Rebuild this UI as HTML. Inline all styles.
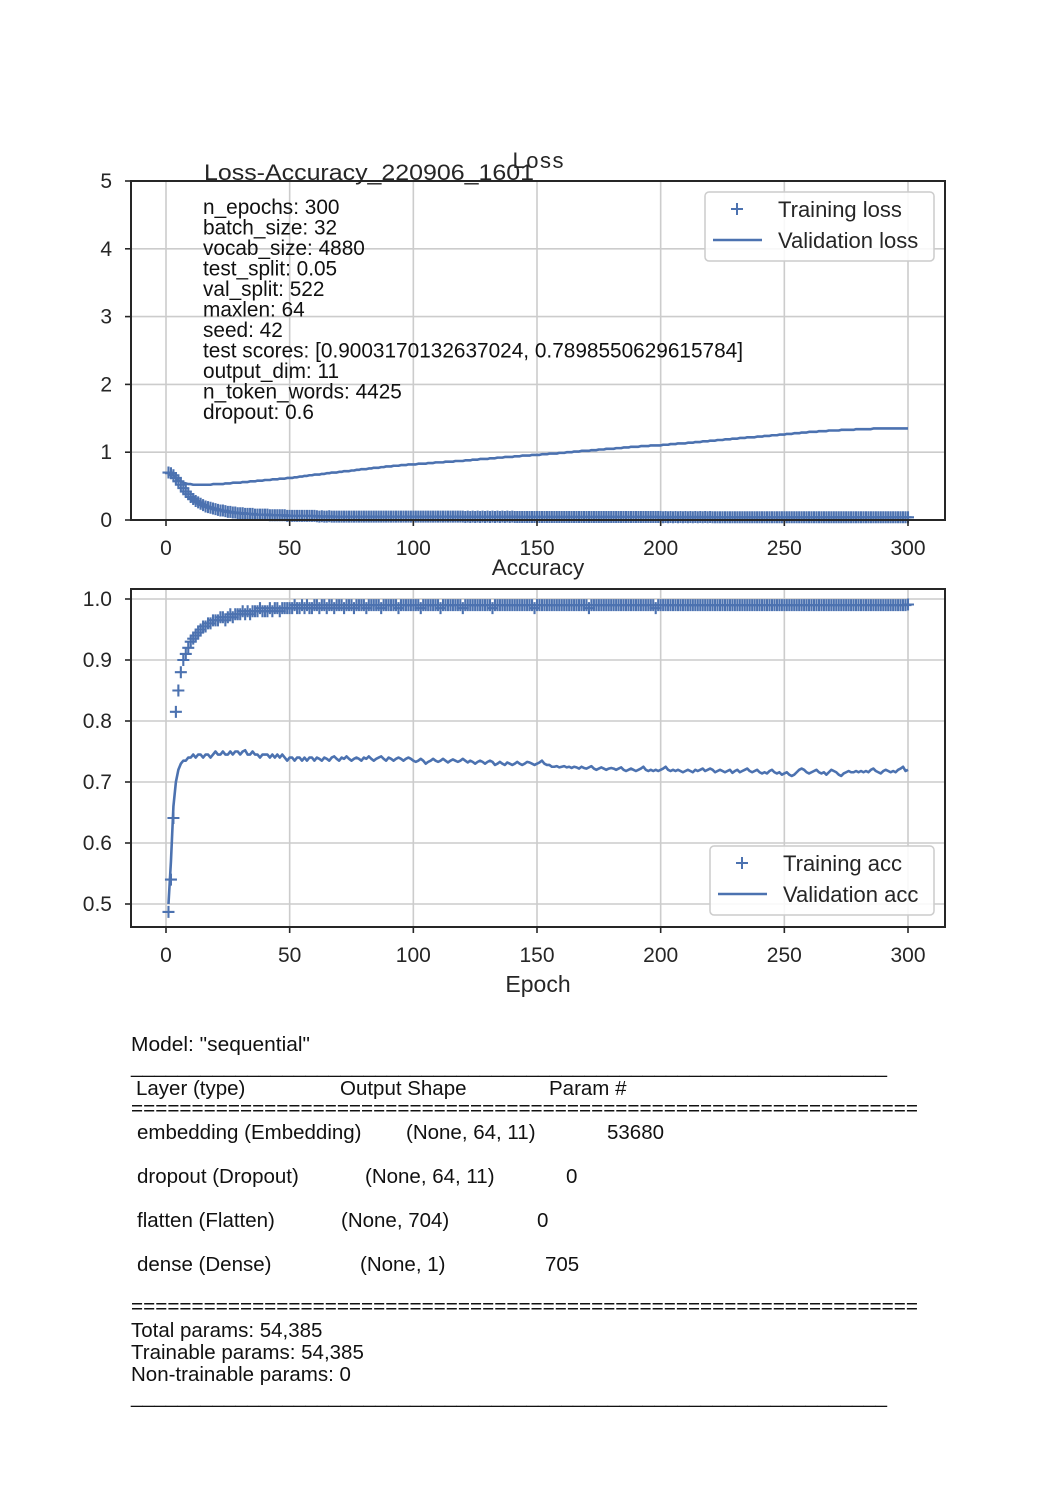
<!DOCTYPE html>
<html><head><meta charset="utf-8"><style>
html,body{margin:0;padding:0;background:#fff;}
svg{display:block;font-family:"Liberation Sans",sans-serif;}
</style></head><body>
<svg id="fig" width="1050" height="1500" viewBox="0 0 1050 1500" xmlns="http://www.w3.org/2000/svg">
<rect width="1050" height="1500" fill="#fff"/>
<g id="loss"></g>
<g id="acc"></g>
<g font-size="20.5" fill="#111">
<text x="131" y="1051" textLength="179" lengthAdjust="spacingAndGlyphs">Model: "sequential"</text>
<text x="131" y="1073" textLength="756" lengthAdjust="spacingAndGlyphs">_________________________________________________________________</text>
<text x="136" y="1095">Layer (type)</text><text x="340" y="1095">Output Shape</text><text x="549" y="1095">Param #</text>
<text x="131" y="1115" textLength="787" lengthAdjust="spacingAndGlyphs">=================================================================</text>
<text x="137" y="1139">embedding (Embedding)</text><text x="406" y="1139">(None, 64, 11)</text><text x="607" y="1139">53680</text>
<text x="137" y="1183">dropout (Dropout)</text><text x="365" y="1183">(None, 64, 11)</text><text x="566" y="1183">0</text>
<text x="137" y="1227">flatten (Flatten)</text><text x="341" y="1227">(None, 704)</text><text x="537" y="1227">0</text>
<text x="137" y="1271">dense (Dense)</text><text x="360" y="1271">(None, 1)</text><text x="545" y="1271">705</text>
<text x="131" y="1313" textLength="787" lengthAdjust="spacingAndGlyphs">=================================================================</text>
<text x="131" y="1337">Total params: 54,385</text>
<text x="131" y="1359">Trainable params: 54,385</text>
<text x="131" y="1381">Non-trainable params: 0</text>
<text x="131" y="1403" textLength="756" lengthAdjust="spacingAndGlyphs">_________________________________________________________________</text>
</g>
</svg>
<script>
const xTicks=[0,50,100,150,200,250,300];
const lossTicks=[0,1,2,3,4,5];
const accTicks=[0.5,0.6,0.7,0.8,0.9,1.0];
const accTickLabels=["0.5","0.6","0.7","0.8","0.9","1.0"];
const trainLoss=[.70,.69,.66,.62,.57,.52,.47,.42,.38,.34,.31,.28,.26,.24,.22,.20,.19,.18,.17,.16,
.15,.14,.14,.13,.12,.12,.11,.11,.10,.10,.10,.09,.09,.09,.09,.08,.08,.08,.08,.08,
.08,.07,.07,.07,.07,.07,.07,.07,.06,.06,.06,.06,.06,.06,.06,.06,.06,.06,.06,.06,
.055,.05,.055,.05,.05,.055,.05,.05,.05,.05,.05,.05,.05,.05,.05,.05,.05,.05,.05,.05,
.05,.05,.05,.05,.05,.05,.05,.05,.05,.05,.05,.05,.05,.05,.05,.05,.05,.05,.05,.05,
.05,.05,.05,.05,.05,.05,.05,.05,.05,.05,.05,.05,.05,.05,.05,.05,.05,.05,.05,.05,
.045,.05,.045,.05,.045,.05,.045,.05,.045,.05,.045,.05,.045,.05,.045,.05,.045,.05,.045,.05,
.045,.045,.045,.045,.045,.045,.045,.045,.045,.045,.045,.045,.045,.045,.045,.045,.045,.045,.045,.045,
.045,.045,.045,.045,.045,.045,.045,.045,.045,.045,.045,.045,.045,.045,.045,.045,.045,.045,.045,.045,
.045,.045,.045,.045,.045,.045,.045,.045,.045,.045,.045,.045,.045,.045,.045,.045,.045,.045,.045,.045,
.04,.045,.04,.045,.04,.045,.04,.045,.04,.045,.04,.045,.04,.045,.04,.045,.04,.045,.04,.045,
.04,.04,.04,.04,.04,.04,.04,.04,.04,.04,.04,.04,.04,.04,.04,.04,.04,.04,.04,.04,
.04,.04,.04,.04,.04,.04,.04,.04,.04,.04,.04,.04,.04,.04,.04,.04,.04,.04,.04,.04,
.04,.04,.04,.04,.04,.04,.04,.04,.04,.04,.04,.04,.04,.04,.04,.04,.04,.04,.04,.04,
.04,.04,.04,.04,.04,.04,.04,.04,.04,.04,.04,.04,.04,.04,.04,.04,.04,.04,.04,.04];
const valLoss=[.70,.68,.65,.62,.59,.57,.55,.54,.53,.53,.52,.52,.52,.52,.52,.52,.52,.52,.53,.53,
.53,.53,.53,.54,.54,.54,.55,.55,.55,.55,.56,.56,.56,.57,.57,.57,.58,.58,.58,.59,
.59,.59,.60,.60,.60,.61,.61,.61,.62,.62,.62,.63,.63,.64,.64,.65,.65,.66,.66,.67,
.67,.67,.68,.68,.69,.69,.70,.70,.70,.71,.71,.72,.72,.72,.73,.73,.74,.74,.75,.75,
.75,.76,.76,.77,.77,.77,.78,.78,.79,.79,.79,.80,.80,.80,.81,.81,.81,.82,.82,.82,
.82,.83,.83,.83,.83,.84,.84,.84,.85,.85,.85,.85,.86,.86,.86,.86,.87,.87,.87,.87,
.88,.88,.88,.89,.89,.89,.90,.90,.90,.90,.91,.91,.91,.92,.92,.92,.93,.93,.93,.93,
.94,.94,.94,.95,.95,.95,.95,.96,.96,.96,.96,.97,.97,.97,.98,.98,.98,.98,.99,.99,
.99,1.00,1.00,1.00,1.01,1.01,1.01,1.02,1.02,1.02,1.02,1.03,1.03,1.03,1.04,1.04,1.04,1.05,1.05,1.05,
1.05,1.06,1.06,1.06,1.07,1.07,1.07,1.08,1.08,1.08,1.08,1.09,1.09,1.09,1.09,1.10,1.10,1.10,1.10,1.10,
1.11,1.11,1.11,1.12,1.12,1.12,1.13,1.13,1.13,1.13,1.14,1.14,1.14,1.15,1.15,1.15,1.16,1.16,1.16,1.17,
1.17,1.17,1.18,1.18,1.18,1.19,1.19,1.19,1.20,1.20,1.20,1.21,1.21,1.21,1.22,1.22,1.22,1.22,1.23,1.23,
1.23,1.24,1.24,1.24,1.25,1.25,1.25,1.26,1.26,1.26,1.27,1.27,1.27,1.28,1.28,1.28,1.29,1.29,1.29,1.30,
1.30,1.30,1.30,1.31,1.31,1.31,1.31,1.32,1.32,1.32,1.32,1.32,1.33,1.33,1.33,1.33,1.33,1.33,1.34,1.34,
1.34,1.34,1.34,1.34,1.34,1.35,1.35,1.35,1.35,1.35,1.35,1.35,1.35,1.35,1.35,1.35,1.35,1.35,1.35,1.35];
const trainAcc=[.487,.54,.641,.815,.85,.88,.90,.91,.92,.93,.935,.94,.945,.95,.955,.955,.96,.96,.965,.965,
.965,.97,.97,.965,.97,.975,.97,.975,.975,.975,.98,.975,.98,.975,.98,.98,.98,.985,.98,.98,
.98,.985,.98,.985,.985,.98,.985,.985,.985,.985,.985,.99,.985,.985,.99,.985,.99,.985,.985,.99,
.99,.985,.99,.99,.985,.99,.99,.985,.99,.99,.99,.985,.99,.99,.99,.985,.99,.99,.99,.99,
.985,.99,.99,.99,.99,.99,.985,.99,.99,.99,.99,.99,.99,.985,.99,.99,.99,.99,.99,.99,
.99,.99,.985,.99,.99,.99,.99,.99,.99,.99,.985,.99,.99,.99,.99,.99,.99,.99,.99,.985,
.99,.99,.99,.99,.99,.99,.99,.99,.99,.99,.99,.985,.99,.99,.99,.99,.99,.99,.99,.99,
.99,.99,.99,.99,.99,.99,.99,.99,.985,.99,.99,.99,.99,.99,.99,.99,.99,.99,.99,.99,
.99,.99,.99,.99,.99,.99,.99,.99,.99,.99,.985,.99,.99,.99,.99,.99,.99,.99,.99,.99,
.99,.99,.99,.99,.99,.99,.99,.99,.99,.99,.99,.99,.99,.99,.99,.99,.99,.985,.99,.99,
.99,.99,.99,.99,.99,.99,.99,.99,.99,.99,.99,.99,.99,.99,.99,.99,.99,.99,.99,.99,
.99,.99,.99,.99,.99,.99,.99,.99,.99,.99,.99,.99,.99,.99,.99,.99,.99,.99,.99,.99,
.99,.99,.99,.99,.99,.99,.99,.99,.99,.99,.99,.99,.99,.99,.99,.99,.99,.99,.99,.99,
.99,.99,.99,.99,.99,.99,.99,.99,.99,.99,.99,.99,.99,.99,.99,.99,.99,.99,.99,.99,
.99,.99,.99,.99,.99,.99,.99,.99,.99,.99,.99,.99,.99,.99,.99,.99,.99,.99,.99,.991];
const valAcc=[.50,.57,.66,.70,.72,.73,.735,.735,.74,.74,.745,.74,.745,.745,.74,.745,.745,.74,.745,.75,
.745,.745,.75,.745,.745,.75,.745,.75,.75,.745,.75,.752,.745,.745,.75,.745,.745,.74,.745,.745,
.745,.74,.745,.74,.745,.74,.745,.74,.735,.74,.74,.735,.74,.74,.735,.74,.735,.74,.74,.735,
.74,.738,.735,.74,.738,.735,.74,.742,.738,.735,.74,.738,.742,.738,.735,.738,.74,.738,.735,.74,
.738,.742,.738,.735,.738,.74,.742,.738,.735,.74,.738,.735,.738,.74,.738,.735,.738,.74,.738,.735,
.733,.735,.738,.735,.73,.733,.735,.738,.735,.733,.735,.738,.735,.732,.735,.737,.735,.733,.735,.738,
.735,.732,.735,.733,.73,.733,.735,.733,.73,.733,.735,.733,.728,.73,.733,.73,.728,.732,.73,.728,
.73,.733,.73,.728,.73,.733,.732,.73,.728,.73,.732,.735,.73,.728,.728,.725,.725,.726,.724,.725,
.726,.724,.725,.723,.725,.724,.722,.725,.723,.722,.724,.726,.722,.72,.722,.724,.722,.72,.722,.723,
.722,.72,.722,.724,.72,.718,.72,.722,.72,.718,.72,.722,.725,.72,.718,.72,.718,.72,.718,.72,
.722,.725,.72,.718,.72,.718,.72,.718,.716,.718,.72,.718,.716,.72,.718,.72,.722,.718,.72,.722,
.72,.716,.718,.72,.718,.716,.718,.72,.715,.718,.72,.716,.718,.72,.722,.718,.716,.718,.72,.716,
.714,.716,.714,.718,.72,.716,.714,.716,.712,.714,.716,.712,.71,.712,.716,.72,.722,.72,.716,.714,
.716,.718,.72,.716,.714,.716,.712,.716,.72,.718,.716,.712,.71,.714,.716,.718,.716,.716,.718,.716,
.718,.716,.718,.716,.72,.722,.718,.716,.714,.718,.72,.718,.716,.718,.716,.72,.722,.725,.718,.72];

const NS="http://www.w3.org/2000/svg";
const BLUE="#4c72b0";
function mk(parent,tag,attrs,txt){const e=document.createElementNS(NS,tag);for(const k in attrs)e.setAttribute(k,attrs[k]);if(txt!==undefined)e.textContent=txt;parent.appendChild(e);return e;}
const X0=131,X1=945;
function xScale(v){return 166+v*(908-166)/300;}

function drawChart(g,top,bottom,yOf,yTicks,yLabels,train,val){
  xTicks.forEach(t=>{const l=mk(g,'line',{x1:xScale(t),x2:xScale(t),y1:top,y2:bottom,stroke:'#cccccc','stroke-width':1.6});
    
    });
  yTicks.forEach(t=>{const l=mk(g,'line',{x1:X0,x2:X1,y1:yOf(t),y2:yOf(t),stroke:'#cccccc','stroke-width':1.6});
    
    });
  let d='';val.forEach((v,i)=>{d+=(i?'L':'M')+xScale(i+1).toFixed(2)+','+yOf(v).toFixed(2);});
  const p=mk(g,'path',{d:d,fill:'none',stroke:BLUE,'stroke-width':2.6,'stroke-linejoin':'round'});
  
  
  train.forEach((v,i)=>{const x=xScale(i+1),y=yOf(v);
    const m=mk(g,'path',{d:`M${x-6},${y}H${x+6}M${x},${y-6}V${y+6}`,stroke:BLUE,'stroke-width':2.1,fill:'none'});
    
    });
  const s=mk(g,'rect',{x:X0,y:top,width:X1-X0,height:bottom-top,fill:'none',stroke:'#262626','stroke-width':2});
  
  
  xTicks.forEach(t=>{mk(g,'line',{x1:xScale(t),x2:xScale(t),y1:bottom,y2:bottom+6,stroke:'#262626','stroke-width':1.6});
    const tx=mk(g,'text',{x:xScale(t),y:bottom+35,'text-anchor':'middle','font-size':21,fill:'#262626'},String(t));
    
    });
  yTicks.forEach((t,i)=>{mk(g,'line',{x1:X0-6,x2:X0,y1:yOf(t),y2:yOf(t),stroke:'#262626','stroke-width':1.6});
    const tx=mk(g,'text',{x:X0-19,y:yOf(t)+7,'text-anchor':'end','font-size':21,fill:'#262626'},yLabels[i]);
    
    });
}
const gL=document.getElementById('loss'),gA=document.getElementById('acc');
const yLoss=v=>520-v*(520-181)/5;
const yAcc=v=>599+(1-v)*610;
drawChart(gL,181,520,yLoss,lossTicks,lossTicks.map(String),trainLoss,valLoss);
drawChart(gA,589,927,yAcc,accTicks,accTickLabels,trainAcc,valAcc);

function legend(g,x,y,w,lab1,lab2){
  const b=mk(g,'rect',{x:x,y:y,width:w,height:69,rx:4,fill:'#fff','fill-opacity':0.85,stroke:'#cccccc','stroke-width':1.5});
  
  
  mk(g,'path',{d:`M${x+26},${y+17}H${x+38}M${x+32},${y+11}V${y+23}`,stroke:BLUE,'stroke-width':2});
  const t1=mk(g,'text',{x:x+73,y:y+25,'font-size':22,fill:'#262626'},lab1);
  
  
  mk(g,'line',{x1:x+8,x2:x+57,y1:y+48,y2:y+48,stroke:BLUE,'stroke-width':2.6});
  const t2=mk(g,'text',{x:x+73,y:y+56,'font-size':22,fill:'#262626'},lab2);
  
  
}
legend(gL,705,192,229,'Training loss','Validation loss');
legend(gA,710,846,224,'Training acc','Validation acc');

let t=mk(gL,'text',{x:538,y:168,'text-anchor':'middle','font-size':22,'textLength':51,fill:'#262626'},'Loss');


t=mk(gL,'text',{x:204,y:180,'font-size':22,textLength:330,lengthAdjust:'spacingAndGlyphs',fill:'#262626'},'Loss-Accuracy_220906_1601');


const infoLines=['n_epochs: 300','batch_size: 32','vocab_size: 4880','test_split: 0.05','val_split: 522','maxlen: 64','seed: 42','test scores: [0.9003170132637024, 0.7898550629615784]','output_dim: 11','n_token_words: 4425','dropout: 0.6'];
infoLines.forEach((s,i)=>{const e=mk(gL,'text',{x:203,y:214+i*20.5,'font-size':20.8,fill:'#111'},s);
  
  });
t=mk(gA,'text',{x:538,y:575,'text-anchor':'middle','font-size':22.5,fill:'#262626'},'Accuracy');


t=mk(gA,'text',{x:538,y:992,'text-anchor':'middle','font-size':23,fill:'#262626'},'Epoch');


</script>
</body></html>
